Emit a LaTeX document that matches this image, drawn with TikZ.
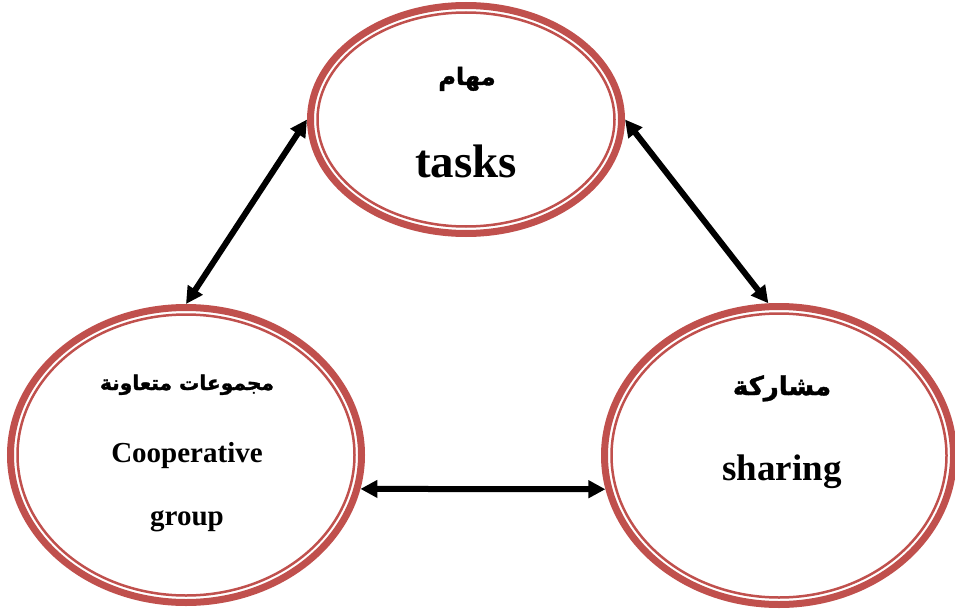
\documentclass[tikz,border=0pt]{standalone}
\usepackage{fontspec}
\setmainfont{Liberation Serif}
\newfontfamily\arabicfont[Script=Arabic,BoldFeatures={FakeBold=1.5}]{DejaVu Sans}
\TeXXeTstate=1
\usetikzlibrary{shapes.geometric,arrows.meta}
\definecolor{rimred}{HTML}{C0504D}

\begin{document}
\begin{tikzpicture}[x=1pt,y=1pt,
  rim/.style={ellipse,draw=rimred,line width=7pt,inner sep=0pt},
  link/.style={<->,>={Triangle[length=17pt,width=17pt]},line width=6pt},
  lbl/.style={anchor=base,inner sep=0pt}]
\useasboundingbox (0,0) rectangle (955,-615);

\node[rim,minimum width=311,minimum height=228] (tasks) at (466,-119.5) {};
\node[rim,minimum width=351,minimum height=295] (coop) at (186,-455) {};
\node[rim,minimum width=349,minimum height=298] (share) at (779,-455.5) {};

\foreach \n/\a/\b in {tasks/148.5/107,coop/168.5/140.5,share/167.5/142}
{
    \draw[rimred,line width=2.5pt] (\n.center) ellipse [x radius=\a, y radius=\b];
}

\node[lbl,font=\arabicfont\bfseries\fontsize{24}{28}\selectfont] (tasksar) at (467,-85) {\beginR مهام\endR};
\node[lbl,font=\bfseries\fontsize{47}{50}\selectfont] (taskstext) at (466,-177) {tasks};

\node[lbl,font=\arabicfont\bfseries\fontsize{20.2}{26}\selectfont] (coopar) at (187,-390) {\beginR مجموعات متعاونة\endR};
\node[lbl,font=\bfseries\fontsize{29}{32}\selectfont] (cooptext) at (187,-462) {Cooperative};
\node[lbl,font=\bfseries\fontsize{29}{32}\selectfont] (grouptext) at (187,-525) {group};

\node[lbl,font=\arabicfont\bfseries\fontsize{26}{30}\selectfont] (sharear) at (782,-395) {\beginR مشاركة\endR};
\node[lbl,font=\bfseries\fontsize{37}{40}\selectfont] (sharetext) at (782,-480) {sharing};

\draw[link] (coop.north) -- (tasks.west);
\draw[link] (tasks.east) -- (share.94);
\draw[link] (coop.-11) -- (share.191);
\end{tikzpicture}
\end{document}
